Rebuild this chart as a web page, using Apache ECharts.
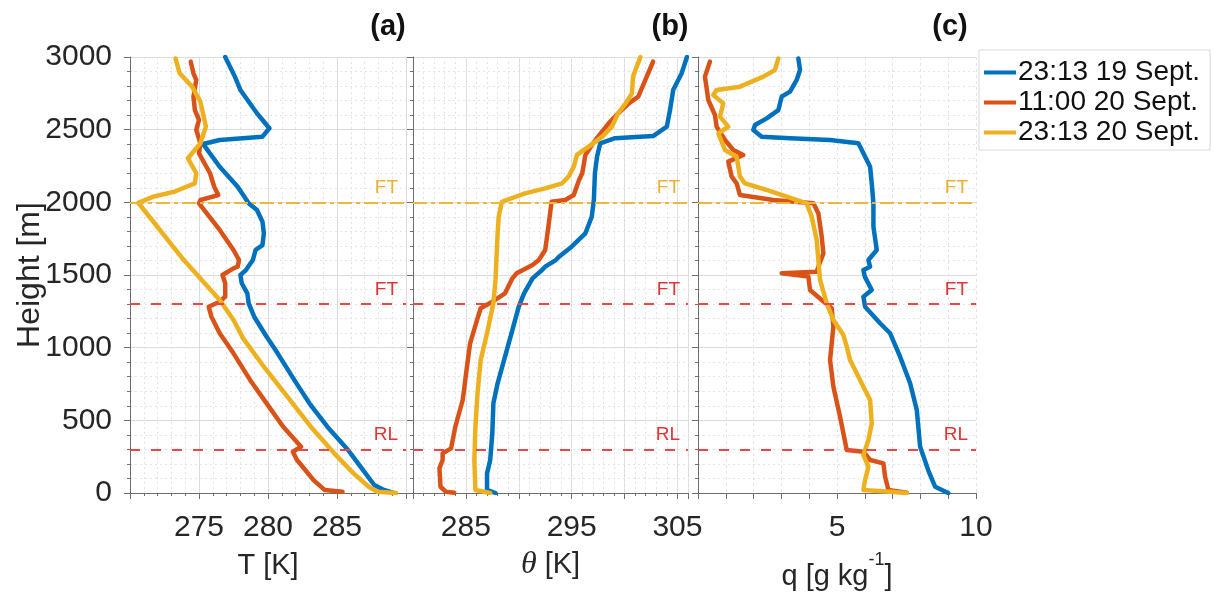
<!DOCTYPE html>
<html>
<head>
<meta charset="utf-8">
<script src="https://cdn.jsdelivr.net/npm/echarts@6/dist/echarts.min.js"></script>
<style>
html,body{margin:0;padding:0;background:#fff;}
#chart{width:1215px;height:596px;}
</style>
</head>
<body>
<div id="chart"></div>
<script>
// ---------------- DATA (value, height [m]) ----------------
const seriesNames = ['23:13 19 Sept.', '11:00 20 Sept.', '23:13 20 Sept.'];
const panelTitles = ['(a)', '(b)', '(c)'];
const tTicks = [275, 280, 285];
const thetaTicks = [285, 295, 305];
const qTicks = [5, 10];
const heightTicks = [0, 500, 1000, 1500, 2000, 2500, 3000];

// Reference levels: height, label, kind
const refHeights = [2000, 1300, 300];
const refLabels = ['FT', 'FT', 'RL'];
const refKinds = ['yellow', 'red', 'red'];

// Panel (a): temperature T [K]
const T_blue = [[276.9,3000],[277.6,2865],[278.0,2773],[279.2,2613],[280.1,2510],[279.6,2452],[276.5,2429],[275.3,2401],[276.5,2245],[277.8,2108],[278.6,1993],[279.2,1947],[279.6,1867],[279.7,1787],[279.6,1706],[279.1,1672],[278.9,1603],[278.4,1534],[278.0,1500],[278.1,1443],[278.5,1374],[278.6,1305],[279.0,1213],[279.9,1075],[280.7,961],[281.9,778],[283.0,617],[284.3,456],[285.8,296],[286.7,181],[287.7,55],[288.4,21],[289.1,0]];
const T_orange = [[274.4,2968],[274.6,2888],[274.8,2842],[274.6,2727],[274.7,2635],[275.0,2567],[274.8,2498],[275.1,2406],[275.0,2337],[275.8,2200],[276.1,2108],[276.4,2050],[275.1,2016],[275.0,1993],[276.5,1810],[277.5,1672],[277.9,1603],[277.8,1557],[277.5,1546],[276.7,1500],[276.9,1443],[276.9,1351],[276.5,1316],[275.7,1282],[275.9,1213],[276.5,1099],[277.5,961],[278.7,778],[279.9,617],[281.1,456],[282.4,319],[281.8,284],[282.1,227],[282.6,170],[283.3,89],[284.1,21],[285.4,9]];
const T_yellow = [[273.3,2990],[273.6,2888],[274.5,2796],[275.1,2693],[275.5,2521],[275.1,2406],[274.2,2303],[274.8,2200],[274.7,2131],[273.2,2073],[271.7,2039],[270.6,1997],[273.9,1603],[276.5,1328],[277.5,1190],[278.2,1064],[279.7,869],[281.4,663],[283.1,456],[284.8,273],[286.2,135],[287.3,43],[287.9,9],[289.3,0]];

// Panel (b): potential temperature theta [K]
const TH_blue = [[305.9,3000],[305.4,2888],[304.6,2773],[304.3,2635],[304.0,2521],[302.7,2456],[299.1,2441],[297.7,2406],[297.4,2314],[297.2,2200],[297.1,2016],[296.9,1901],[296.3,1787],[295.0,1695],[293.8,1626],[293.5,1603],[292.5,1557],[292.2,1534],[291.3,1477],[290.5,1374],[290.0,1282],[289.4,1122],[288.7,938],[288.0,755],[287.6,617],[287.5,411],[287.3,227],[287.0,135],[287.0,21],[287.8,0]];
const TH_orange = [[302.7,2968],[302.1,2865],[301.3,2727],[300.4,2681],[299.4,2613],[298.5,2544],[297.5,2452],[296.8,2383],[296.3,2326],[296.0,2200],[295.7,2154],[295.2,2050],[294.4,2016],[293.1,2004],[292.8,1832],[292.5,1672],[291.9,1603],[291.3,1569],[289.8,1512],[289.4,1477],[288.7,1374],[287.5,1316],[286.4,1271],[286.1,1202],[285.4,1030],[285.1,869],[284.7,640],[284.0,456],[283.6,307],[282.8,273],[282.8,227],[282.5,170],[282.6,43],[283.1,9],[283.9,2]];
const TH_yellow = [[301.5,3000],[300.8,2865],[300.7,2750],[300.1,2681],[299.4,2613],[298.8,2521],[297.9,2452],[296.6,2383],[295.5,2326],[295.2,2245],[294.7,2177],[294.1,2131],[292.5,2096],[290.6,2062],[288.4,2004],[288.1,1901],[288.0,1787],[287.8,1466],[287.6,1305],[287.0,1099],[286.4,915],[286.1,686],[285.9,456],[285.8,227],[285.9,21],[287.3,0]];

// Panel (c): specific humidity q [g/kg]
const Q_blue = [[3.61,2990],[3.67,2911],[3.55,2842],[3.31,2762],[3.01,2727],[2.89,2635],[2.47,2578],[2.05,2532],[1.99,2498],[2.29,2452],[3.31,2441],[4.75,2429],[5.77,2406],[5.95,2337],[6.19,2245],[6.25,2131],[6.31,1993],[6.31,1832],[6.43,1672],[6.13,1603],[6.19,1557],[5.95,1534],[6.0,1489],[6.25,1397],[5.95,1351],[6.01,1282],[6.55,1168],[6.91,1099],[7.27,938],[7.63,755],[7.87,571],[7.99,319],[8.28,158],[8.53,43],[9.0,0]];
const Q_orange = [[0.43,2968],[0.25,2865],[0.31,2785],[0.37,2704],[0.61,2601],[0.67,2521],[0.97,2429],[1.27,2360],[1.63,2326],[1.09,2280],[1.21,2177],[1.39,2131],[1.51,2050],[2.71,2016],[4.15,1993],[4.33,1924],[4.45,1764],[4.51,1649],[4.33,1557],[4.27,1523],[3.01,1512],[3.97,1489],[4.03,1397],[4.45,1328],[4.81,1271],[4.87,1144],[4.75,915],[4.87,731],[5.11,525],[5.35,296],[5.95,284],[6.19,227],[6.67,204],[6.73,112],[6.85,21],[7.51,2]];
const Q_yellow = [[2.89,2990],[2.77,2911],[2.35,2865],[1.51,2796],[0.67,2773],[0.55,2738],[0.91,2681],[0.79,2590],[1.09,2521],[0.73,2475],[0.97,2360],[1.39,2314],[1.51,2177],[1.69,2131],[2.47,2085],[3.19,2039],[3.91,1993],[4.09,1901],[4.27,1741],[4.33,1603],[4.39,1466],[4.63,1305],[4.87,1190],[5.23,1087],[5.35,1007],[5.47,915],[5.71,824],[5.95,731],[6.19,640],[6.25,480],[6.13,365],[5.95,261],[6.13,181],[6.01,89],[5.95,21],[6.91,9],[7.51,0]];

// ---------------- STYLE ----------------
const FONT = '"Liberation Sans", Arial, Helvetica, sans-serif';
const COLORS = ['#0072BD', '#D95319', '#EDB120'];
const TXT = '#262626';
const AXIS = '#6e6e6e';
const MAJOR = '#dcdcdc';
const MINOR = '#e4e4e4';
const REF = {
  yellow: {line: '#EDB838', text: '#E9B22E', type: [14, 4, 4, 4]},
  red: {line: '#F04545', text: '#E23434', type: [10, 11]}
};

const grids = [
  {left: 130, top: 57, width: 276, height: 436},
  {left: 413, top: 57, width: 275, height: 436},
  {left: 698, top: 57, width: 278, height: 436}
];

function labelFmt(list) {
  return function (v) { return list.indexOf(Math.round(v * 1000) / 1000) >= 0 ? String(v) : ''; };
}

const commonX = {
  type: 'value',
  position: 'bottom',
  axisLine: {show: true, lineStyle: {color: AXIS, width: 1}},
  axisTick: {show: true, inside: false, length: 6, lineStyle: {color: AXIS}},
  axisLabel: {fontSize: 30, color: TXT, margin: 20, fontFamily: FONT, showMinLabel: true, showMaxLabel: true},
  splitLine: {show: true, lineStyle: {color: MAJOR, width: 1}},
  nameLocation: 'middle',
  nameTextStyle: {fontSize: 29, color: TXT, fontFamily: FONT}
};

const xAxes = [
  Object.assign({}, commonX, {
    gridIndex: 0, min: 270, max: 290, interval: 5,
    axisLabel: Object.assign({}, commonX.axisLabel, {formatter: labelFmt(tTicks)}),
    minorTick: {show: true, splitNumber: 5, length: 3, lineStyle: {color: AXIS}},
    minorSplitLine: {show: true, lineStyle: {color: MINOR, type: [2, 3]}},
    name: 'T [K]', nameGap: 58
  }),
  Object.assign({}, commonX, {
    gridIndex: 1, min: 280, max: 306, interval: 5,
    axisLabel: Object.assign({}, commonX.axisLabel, {formatter: labelFmt(thetaTicks)}),
    name: '{it|θ}{n| [K]}', nameGap: 56,
    nameTextStyle: {fontSize: 29, color: TXT, fontFamily: FONT,
      rich: {it: {fontFamily: '"Liberation Serif", "DejaVu Serif", serif', fontStyle: 'italic', fontSize: 32, color: TXT},
             n: {fontSize: 29, color: TXT, fontFamily: FONT}}}
  }),
  // fine ticks / dotted grid for panel (b)
  {
    type: 'value', gridIndex: 1, position: 'bottom', min: 280, max: 306, interval: 1,
    axisLine: {show: false}, axisLabel: {show: false},
    axisTick: {show: true, length: 3, lineStyle: {color: AXIS}},
    splitLine: {show: true, lineStyle: {color: MINOR, type: [2, 3]}},
    z: 0
  },
  Object.assign({}, commonX, {
    gridIndex: 2, min: 0, max: 10, interval: 1,
    axisLabel: Object.assign({}, commonX.axisLabel, {formatter: labelFmt(qTicks)}),
    splitLine: {show: true, lineStyle: {color: MINOR, type: [3, 3]}},
    name: '{n|q [g kg}{sup|-1}{n|]}', nameGap: 58,
    nameTextStyle: {fontSize: 29, color: TXT, fontFamily: FONT,
      rich: {n: {fontSize: 29, color: TXT, fontFamily: FONT, lineHeight: 40, verticalAlign: 'bottom'},
             sup: {fontSize: 18, color: TXT, fontFamily: FONT, lineHeight: 40, verticalAlign: 'top'}}}
  })
];

function yAxis(i) {
  return {
    type: 'value', gridIndex: i, min: 0, max: 3000, interval: 500,
    axisLine: {show: true, onZero: false, lineStyle: {color: AXIS, width: 1}},
    axisTick: {show: true, inside: false, length: 6, lineStyle: {color: AXIS}},
    minorTick: {show: true, splitNumber: 5, length: 3, lineStyle: {color: AXIS}},
    splitLine: {show: true, lineStyle: {color: MAJOR, width: 1}},
    minorSplitLine: {show: true, lineStyle: {color: MINOR, type: [2, 3]}},
    axisLabel: {show: i === 0, fontSize: 30, color: TXT, margin: 18, fontFamily: FONT,
      formatter: function (v) { return heightTicks.indexOf(v) >= 0 ? String(v) : ''; }},
    name: i === 0 ? 'Height [m]' : '',
    nameLocation: 'middle', nameGap: 84, nameMoveOverlap: false,
    nameTextStyle: {fontSize: 32, color: TXT, fontFamily: FONT}
  };
}

function markLines() {
  return {
    silent: true, symbol: 'none', animation: false,
    data: refHeights.map(function (h, k) {
      const st = REF[refKinds[k]];
      return {
        yAxis: h,
        lineStyle: {color: st.line, width: 2, type: st.type},
        label: {show: true, formatter: refLabels[k], position: 'insideEndTop', distance: [8, 5],
          color: st.text, fontSize: 19, fontFamily: FONT}
      };
    })
  };
}

const panelData = [
  [T_blue, T_orange, T_yellow],
  [TH_blue, TH_orange, TH_yellow],
  [Q_blue, Q_orange, Q_yellow]
];
const xIndexOfPanel = [0, 1, 3];

const series = [];
panelData.forEach(function (arr, p) {
  arr.forEach(function (d, s) {
    const ser = {
      name: seriesNames[s], type: 'line', data: d,
      xAxisIndex: xIndexOfPanel[p], yAxisIndex: p,
      showSymbol: false, symbol: 'none', smooth: false,
      color: COLORS[s],
      lineStyle: {color: COLORS[s], width: 4.5, join: 'round', cap: 'round'},
      z: 3
    };
    if (s === 0) ser.markLine = markLines();
    series.push(ser);
  });
});

const titleXs = [388, 670, 950];
const graphics = panelTitles.map(function (t, i) {
  return {type: 'text', x: titleXs[i], y: 27, z: 10,
    style: {text: t, fill: '#111', font: 'bold 29px ' + FONT, textAlign: 'center', textVerticalAlign: 'middle'}};
});

const option = {
  animation: false,
  backgroundColor: '#ffffff',
  textStyle: {fontFamily: FONT},
  grid: grids,
  xAxis: xAxes,
  yAxis: [yAxis(0), yAxis(1), yAxis(2)],
  legend: {
    data: seriesNames, orient: 'vertical', left: 979, top: 50,
    icon: 'rect', itemWidth: 32, itemHeight: 4, itemGap: 1,
    padding: [8, 10, 3, 5],
    borderColor: '#d9d9d9', borderWidth: 1, backgroundColor: '#fff',
    textStyle: {fontSize: 28, color: '#111', fontFamily: FONT, lineHeight: 29, padding: [0, 0, 0, -3]}
  },
  graphic: graphics,
  series: series
};

const chart = echarts.init(document.getElementById('chart'), null, {renderer: 'canvas'});
chart.setOption(option);
</script>
</body>
</html>
